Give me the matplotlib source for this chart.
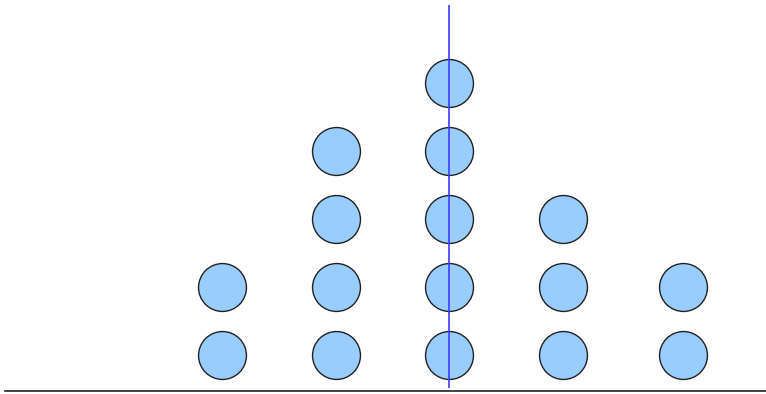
import numpy as np
import matplotlib.pyplot as plt

# dot plot data: value -> number of stacked dots
values = [2, 3, 4, 5, 6.06]
counts = [2, 4, 5, 3, 2]

xs, ys = [], []
for v, c in zip(values, counts):
    for k in range(c):
        xs.append(v)
        ys.append(k + 0.53)

median = np.median(np.repeat(values, counts))

fig = plt.figure(figsize=(7.66, 3.94), dpi=100)
ax = fig.add_axes([5 / 766, 3 / 394, 761 / 766, 391 / 394])

ax.scatter(xs, ys, s=1190, facecolor="#99ccff", edgecolor="#222222",
           linewidths=1.0, zorder=2)
ax.vlines(median, 0.044, 5.68, color="#3d3dff", linewidth=1.2, zorder=3)

ax.set_xlim(0.088, 6.79)
ax.set_ylim(0, 391 / 68)
for side in ["top", "right", "left"]:
    ax.spines[side].set_visible(False)
ax.spines["bottom"].set_color("#222222")
ax.spines["bottom"].set_linewidth(1.2)
ax.set_xticks([])
ax.set_yticks([])

fig.savefig("out.png", dpi=100)
